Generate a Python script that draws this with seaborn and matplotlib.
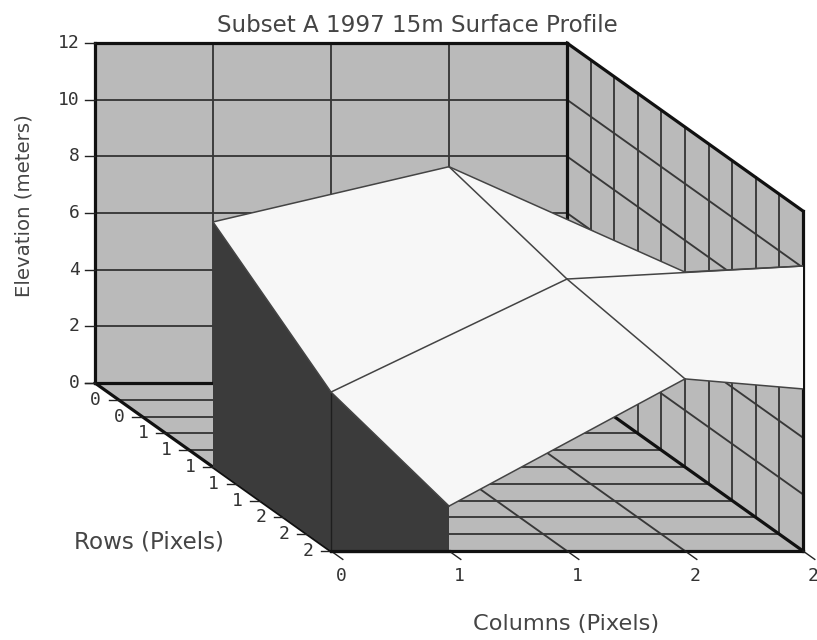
import matplotlib
matplotlib.use("Agg")
import matplotlib.pyplot as plt
from matplotlib.patches import Polygon
import numpy as np
import pandas as pd
import seaborn as sns

# ---- data ----
title = "Subset A 1997 15m Surface Profile"
z_label = "Elevation (meters)"
row_label = "Rows (Pixels)"
col_label = "Columns (Pixels)"
z_ticks = [0, 2, 4, 6, 8, 10, 12]
row_ticks = [0.0, 0.2, 0.4, 0.6, 0.8, 1.0, 1.2, 1.4, 1.6, 1.8, 2.0]
row_tick_labels = ["0", "0", "0", "1", "1", "1", "1", "1", "2", "2", "2"]
col_ticks = [0.0, 0.5, 1.0, 1.5, 2.0]
col_tick_labels = ["0", "1", "1", "2", "2"]
surface_cols = [0, 1, 2]
surface_rows = [1, 2, 3]
elev_row1 = [8.65, 10.6, 6.88]
elev_row2 = [5.61, 9.6, 10.06]
elev_row3 = [4.55, 9.04, 8.33]
elevation = [elev_row1, elev_row2, elev_row3]

# ---- oblique projection of (column, row, elevation) to the page ----
X0, Y0 = 95, 383
CX, RX, RY, ZY = 236, 118, 84, 28.33
def proj(c, r, z):
    return X0 + CX * c + RX * r, Y0 + RY * r - ZY * z

GRAY, DARK, LIGHT, INK = "#bababa", "#3b3b3b", "#f7f7f7", "#383838"
TXT = "#454545"

sns.set_theme(style="white")
plt.rcParams["font.family"] = ["DejaVu Sans"]
fig = plt.figure(figsize=(8.17, 6.40), dpi=100, facecolor="white")
ax = fig.add_axes([0, 0, 1, 1])

def face(points, color, z=1, clip=None):
    p = Polygon([proj(*q) for q in points], closed=True, facecolor=color,
                edgecolor="none", zorder=z)
    ax.add_patch(p)
    if clip is not None:
        p.set_clip_path(clip)
    return p

def segments(segs, color=INK, lw=1.1, z=2, clip=None):
    rows = []
    for i, (a, b) in enumerate(segs):
        for q in (a, b):
            x, y = proj(*q)
            rows.append({"X": x, "Y": y, "seg": i})
    n = len(ax.lines)
    sns.lineplot(data=pd.DataFrame(rows), x="X", y="Y", units="seg", estimator=None,
                 sort=False, color=color, linewidth=lw, zorder=z, ax=ax, legend=False,
                 solid_capstyle="projecting")
    if clip is not None:
        for ln in ax.lines[n:]:
            ln.set_clip_path(clip)

zmax, cmax, rmax = z_ticks[-1], col_ticks[-1], row_ticks[-1]

# walls and floor
face([(0, 0, 0), (cmax, 0, 0), (cmax, 0, zmax), (0, 0, zmax)], GRAY)
face([(cmax, 0, 0), (cmax, rmax, 0), (cmax, rmax, zmax), (cmax, 0, zmax)], GRAY)
face([(0, 0, 0), (cmax, 0, 0), (cmax, rmax, 0), (0, rmax, 0)], GRAY)

# grid lines
grid = []
for z in z_ticks[1:-1]:
    grid.append(((0, 0, z), (cmax, 0, z)))
    grid.append(((cmax, 0, z), (cmax, rmax, z)))
for c in col_ticks[1:-1]:
    grid.append(((c, 0, 0), (c, 0, zmax)))
    grid.append(((c, 0, 0), (c, rmax, 0)))
for r in row_ticks[1:-1]:
    grid.append(((cmax, r, 0), (cmax, r, zmax)))
    grid.append(((0, r, 0), (cmax, r, 0)))
segments(grid, lw=1.35, z=2)

# heavy box outline
box = [((0, 0, 0), (0, 0, zmax)), ((0, 0, zmax), (cmax, 0, zmax)),
       ((cmax, 0, zmax), (cmax, 0, 0)), ((0, 0, 0), (cmax, 0, 0)),
       ((cmax, 0, zmax), (cmax, rmax, zmax)), ((cmax, rmax, zmax), (cmax, rmax, 0)),
       ((cmax, 0, 0), (cmax, rmax, 0)), ((0, 0, 0), (0, rmax, 0)),
       ((0, rmax, 0), (cmax, rmax, 0))]
segments(box, color="#111111", lw=2.3, z=3)

# ticks
ticks = [((0, 0, z), (-0.042, 0, z)) for z in z_ticks]
ticks += [((0, r, 0), (-0.042, r, 0)) for r in row_ticks]
ticks += [((c, rmax, 0), (c, rmax + 0.1, 0)) for c in col_ticks]
segments(ticks, color="#222222", lw=1.0, z=3)

# surface, cut off at the box outline
outline = Polygon([proj(0, 0, zmax), proj(cmax, 0, zmax), proj(cmax, rmax, zmax),
                   proj(cmax, rmax, 0), proj(0, rmax, 0), proj(0, 0, 0)],
                  closed=True, transform=ax.transData, facecolor="none", edgecolor="none")
ax.add_patch(outline)

def S(i, j):
    return (surface_cols[j], surface_rows[i], elevation[i][j])
def B(i, j):
    return (surface_cols[j], surface_rows[i], 0)

# dark side wall along the first column
face([S(0, 0), S(1, 0), S(2, 0), B(2, 0), B(0, 0)], DARK, z=4, clip=outline)
segments([(S(1, 0), B(1, 0))], color="#1e1e1e", lw=1.0, z=4, clip=outline)
segments([((0, rmax, 0), (surface_cols[1] / 2, rmax, 0))], color="#111111", lw=2.3, z=4)
for i in range(2):
    for j in range(2):
        face([S(i, j), S(i, j + 1), S(i + 1, j + 1), S(i + 1, j)], LIGHT, z=5, clip=outline)

mesh = []
for i in range(3):
    for j in range(2):
        mesh.append((S(i, j), S(i, j + 1)))
for j in range(3):
    for i in range(2):
        mesh.append((S(i, j), S(i + 1, j)))
segments(mesh, color="#444444", lw=1.1, z=6, clip=outline)

# texts
mono = {"family": "DejaVu Sans Mono", "fontsize": 13, "color": "#333333"}
for z in z_ticks:
    x, y = proj(0, 0, z)
    ax.text(x - 15, y, str(z), ha="right", va="center", **mono)
for r, lab in list(zip(row_ticks, row_tick_labels))[1:]:
    x, y = proj(0, r, 0)
    ax.text(x - 23, y, lab, ha="center", va="center", **mono)
for c, lab in zip(col_ticks, col_tick_labels):
    x, y = proj(c, rmax, 0)
    ax.text(x + 10, y + 25, lab, ha="center", va="center", **mono)

ax.text(417, 25, title, ha="center", va="center", fontsize=16.6, color=TXT)
ax.text(24, 206, z_label, rotation=90, ha="center", va="center", fontsize=14.2, color=TXT)
ax.text(149, 542, row_label, ha="center", va="center", fontsize=16.6, color=TXT)
ax.text(566, 624, col_label, ha="center", va="center", fontsize=16.2, color=TXT)

ax.set_xlim(0, 817)
ax.set_ylim(640, 0)
ax.axis("off")
fig.savefig("out.png", dpi=100, facecolor="white")
